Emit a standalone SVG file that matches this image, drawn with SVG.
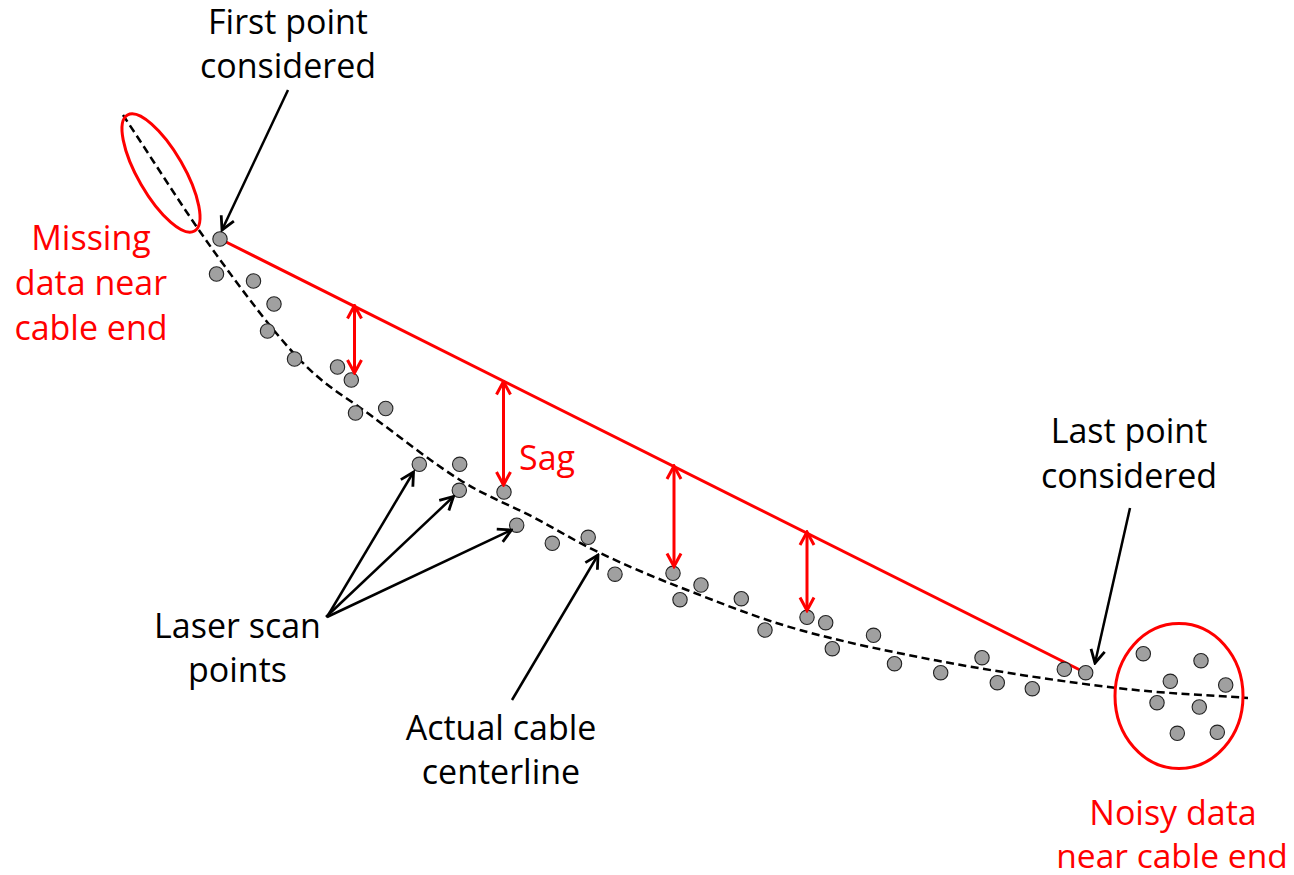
<svg xmlns="http://www.w3.org/2000/svg" width="1294" height="875" viewBox="0 0 1294 875">
<style>
.t{font-family:"Open Sans","Noto Sans","Liberation Sans",sans-serif;font-size:34px;text-anchor:middle;fill:#000}
.r{fill:#FF0000}
.pt{fill:#A0A0A0;stroke:#222;stroke-width:1.1}
.blk{stroke:#000;stroke-width:2.5;fill:none}
.red{stroke:#FF0000;stroke-width:3;fill:none}
</style>
<defs>
<marker id="ah" markerUnits="userSpaceOnUse" markerWidth="18" markerHeight="18" viewBox="0 0 18 18" refX="16" refY="9" orient="auto-start-reverse">
<path d="M3,2 L16,9 L3,16" fill="none" stroke="#000" stroke-width="2.8"/>
</marker>
<marker id="ahr" markerUnits="userSpaceOnUse" markerWidth="18" markerHeight="18" viewBox="0 0 18 18" refX="16" refY="9" orient="auto-start-reverse">
<path d="M3,2 L16,9 L3,16" fill="none" stroke="#FF0000" stroke-width="3"/>
</marker>
</defs>
<rect width="1294" height="875" fill="#fff"/>
<g id="centerline">
<path d="M123,115 C153,160 183.5,209.2 213,250 C242.5,290.8 273.3,332.2 300,360 C326.7,387.8 346.3,397 373,417 C399.7,437 433.3,463.3 460,480 C486.7,496.7 509.7,504.8 533,517 C556.3,529.2 574.3,540.8 600,553 C625.7,565.2 653.7,577.2 687,590 C720.3,602.8 756.2,617.8 800,630 C843.8,642.2 897.2,653.3 950,663 C1002.8,672.7 1067.3,682.2 1117,688 C1166.7,693.8 1204.3,694.7 1248,698" fill="none" stroke="#000" stroke-width="2.5" stroke-dasharray="8,4.5"/>
</g>
<g id="chord">
<line x1="220" y1="239" x2="1086" y2="673" class="red"/>
</g>
<g id="ellipses">
<ellipse cx="161" cy="173" rx="67" ry="23" transform="rotate(60 161 173)" class="red"/>
<ellipse cx="1179" cy="696" rx="64" ry="72.5" class="red"/>
</g>
<g id="points">
<circle class="pt" cx="220" cy="239" r="7.2"/>
<circle class="pt" cx="216.5" cy="274" r="7.2"/>
<circle class="pt" cx="253.5" cy="281" r="7.2"/>
<circle class="pt" cx="274" cy="304" r="7.2"/>
<circle class="pt" cx="267.5" cy="331" r="7.2"/>
<circle class="pt" cx="294.5" cy="359" r="7.2"/>
<circle class="pt" cx="337.5" cy="367" r="7.2"/>
<circle class="pt" cx="351.3" cy="380" r="7.2"/>
<circle class="pt" cx="355.5" cy="413" r="7.2"/>
<circle class="pt" cx="385.7" cy="408.5" r="7.2"/>
<circle class="pt" cx="419.3" cy="464.3" r="7.2"/>
<circle class="pt" cx="459.7" cy="464.3" r="7.2"/>
<circle class="pt" cx="459.3" cy="490.3" r="7.2"/>
<circle class="pt" cx="504" cy="492" r="7.2"/>
<circle class="pt" cx="516.7" cy="525.2" r="7.2"/>
<circle class="pt" cx="552.3" cy="543.3" r="7.2"/>
<circle class="pt" cx="588.2" cy="537.3" r="7.2"/>
<circle class="pt" cx="615" cy="574.2" r="7.2"/>
<circle class="pt" cx="673" cy="573.3" r="7.2"/>
<circle class="pt" cx="701" cy="585" r="7.2"/>
<circle class="pt" cx="680" cy="599.7" r="7.2"/>
<circle class="pt" cx="741.3" cy="598.7" r="7.2"/>
<circle class="pt" cx="765" cy="630" r="7.2"/>
<circle class="pt" cx="807" cy="617.3" r="7.2"/>
<circle class="pt" cx="825.7" cy="622.7" r="7.2"/>
<circle class="pt" cx="832.3" cy="648.7" r="7.2"/>
<circle class="pt" cx="873.5" cy="635.3" r="7.2"/>
<circle class="pt" cx="894.5" cy="663.7" r="7.2"/>
<circle class="pt" cx="940.7" cy="672.7" r="7.2"/>
<circle class="pt" cx="982" cy="657.7" r="7.2"/>
<circle class="pt" cx="997.3" cy="682.7" r="7.2"/>
<circle class="pt" cx="1032.3" cy="688.7" r="7.2"/>
<circle class="pt" cx="1064.3" cy="669.3" r="7.2"/>
<circle class="pt" cx="1085.7" cy="672.7" r="7.2"/>
<circle class="pt" cx="1143.3" cy="653.7" r="7.2"/>
<circle class="pt" cx="1201" cy="660.7" r="7.2"/>
<circle class="pt" cx="1170.3" cy="681.3" r="7.2"/>
<circle class="pt" cx="1225.7" cy="685" r="7.2"/>
<circle class="pt" cx="1157" cy="702.7" r="7.2"/>
<circle class="pt" cx="1199.3" cy="707" r="7.2"/>
<circle class="pt" cx="1177.3" cy="733.3" r="7.2"/>
<circle class="pt" cx="1217.3" cy="732.3" r="7.2"/>
</g>
<g id="connectors">
<line class="blk" x1="288" y1="90" x2="222" y2="230" marker-end="url(#ah)"/>
<line class="blk" x1="1130" y1="508" x2="1095" y2="663" marker-end="url(#ah)"/>
<line class="blk" x1="327" y1="617" x2="413.5" y2="472" marker-end="url(#ah)"/>
<line class="blk" x1="326" y1="617" x2="453.5" y2="496.5" marker-end="url(#ah)"/>
<line class="blk" x1="327" y1="617" x2="511.5" y2="530" marker-end="url(#ah)"/>
<line class="blk" x1="512" y1="700" x2="598" y2="555" marker-end="url(#ah)"/>
<line class="red" x1="354.5" y1="305.5" x2="354.5" y2="373" marker-start="url(#ahr)" marker-end="url(#ahr)"/>
<line class="red" x1="503.5" y1="381.5" x2="503.5" y2="485" marker-start="url(#ahr)" marker-end="url(#ahr)"/>
<line class="red" x1="674" y1="466" x2="674" y2="566.5" marker-start="url(#ahr)" marker-end="url(#ahr)"/>
<line class="red" x1="807" y1="532" x2="807" y2="610.5" marker-start="url(#ahr)" marker-end="url(#ahr)"/>
</g>
<g id="label-first"><text class="t" x="288" y="34">First point</text><text class="t" x="288" y="78">considered</text></g>
<g id="label-missing"><text class="t r" x="91" y="250">Missing</text><text class="t r" x="91" y="295">data near</text><text class="t r" x="91" y="340">cable end</text></g>
<g id="label-sag"><text class="t r" x="519" y="470" style="text-anchor:start">Sag</text></g>
<g id="label-last"><text class="t" x="1129" y="443">Last point</text><text class="t" x="1129" y="488">considered</text></g>
<g id="label-laser"><text class="t" x="237.5" y="638">Laser scan</text><text class="t" x="237.5" y="682">points</text></g>
<g id="label-actual"><text class="t" x="501" y="740">Actual cable</text><text class="t" x="501" y="784">centerline</text></g>
<g id="label-noisy"><text class="t r" x="1173" y="825">Noisy data</text><text class="t r" x="1172" y="868" style="font-size:33.5px">near cable end</text></g>
</svg>
